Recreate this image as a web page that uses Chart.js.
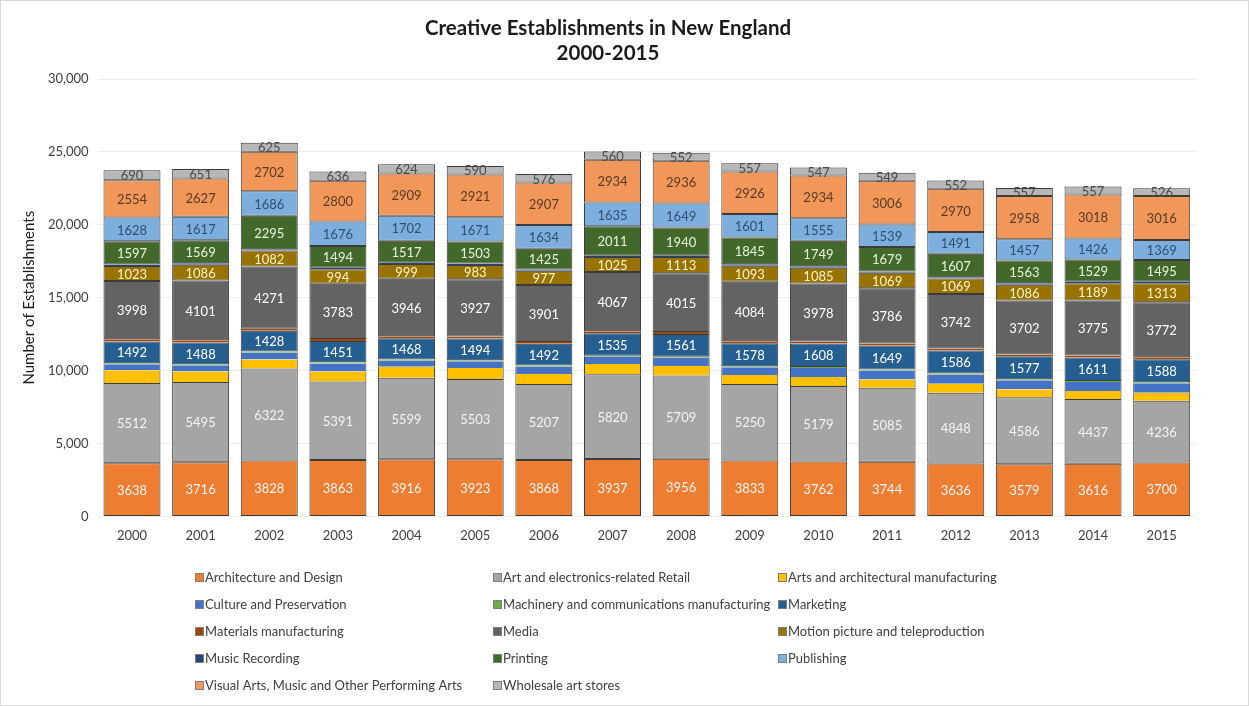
<!DOCTYPE html>
<html>
<head>
<meta charset="utf-8">
<script src="https://cdn.jsdelivr.net/npm/chart.js@4.4.1/dist/chart.umd.min.js"></script>
<style>
    body { margin: 0; background: #fff; }
    #wrap { width: 1249px; height: 706px; position: relative; }
</style>
</head>
<body>
<div id="wrap"><canvas id="metric-graph"></canvas></div>
<script>
// years on the x axis
const years = ["2000", "2001", "2002", "2003", "2004", "2005", "2006", "2007",
               "2008", "2009", "2010", "2011", "2012", "2013", "2014", "2015"];

// establishments per sector (bottom of stack first)
const architecture = [3638, 3716, 3828, 3863, 3916, 3923, 3868, 3937, 3956, 3833, 3762, 3744, 3636, 3579, 3616, 3700];
const retail       = [5512, 5495, 6322, 5391, 5599, 5503, 5207, 5820, 5709, 5250, 5179, 5085, 4848, 4586, 4437, 4236];
const artsMfg      = [870, 720, 620, 690, 750, 750, 690, 690, 650, 620, 620, 560, 620, 550, 550, 550];
const culture      = [410, 430, 450, 550, 410, 460, 500, 500, 570, 520, 620, 620, 620, 620, 620, 640];
const machinery    = [80, 80, 90, 80, 80, 70, 80, 80, 70, 80, 70, 70, 70, 70, 70, 70];
const marketing    = [1492, 1488, 1428, 1451, 1468, 1494, 1492, 1535, 1561, 1578, 1608, 1649, 1586, 1577, 1611, 1588];
const materials    = [150, 150, 140, 150, 140, 140, 130, 130, 140, 130, 130, 130, 130, 120, 130, 130];
const media        = [3998, 4101, 4271, 3783, 3946, 3927, 3901, 4067, 4015, 4084, 3978, 3786, 3742, 3702, 3775, 3772];
const motion       = [1023, 1086, 1082, 994, 999, 983, 977, 1025, 1113, 1093, 1085, 1069, 1069, 1086, 1189, 1313];
const music        = [100, 100, 90, 100, 90, 100, 90, 100, 90, 100, 100, 90, 90, 100, 100, 100];
const printing     = [1597, 1569, 2295, 1494, 1517, 1503, 1425, 2011, 1940, 1845, 1749, 1679, 1607, 1563, 1529, 1495];
const publishing   = [1628, 1617, 1686, 1676, 1702, 1671, 1634, 1635, 1649, 1601, 1555, 1539, 1491, 1457, 1426, 1369];
const visualArts   = [2554, 2627, 2702, 2800, 2909, 2921, 2907, 2934, 2936, 2926, 2934, 3006, 2970, 2958, 3018, 3016];
const wholesale    = [690, 651, 625, 636, 624, 590, 576, 560, 552, 557, 547, 549, 552, 557, 557, 526];

const yTicks = [0, 5000, 10000, 15000, 20000, 25000, 30000];

const FONT = "Lato";

function series(label, data, color, labelColor, thin) {
    return {
        label: label,
        data: data,
        backgroundColor: color,
        borderColor: "#3b3b3b",
        borderWidth: thin ? { top: 0, bottom: 0, left: 1, right: 1 } : 1,
        borderSkipped: false,
        labelColor: labelColor,
        barPercentage: 0.83,
        categoryPercentage: 1.0
    };
}

const datasets = [
    series("Architecture and Design", architecture, "#ED7D31", "#f4f4f4"),
    series("Art and electronics-related Retail", retail, "#A5A5A5", "#f4f4f4"),
    series("Arts and architectural manufacturing", artsMfg, "#FFC000", null, true),
    series("Culture and Preservation", culture, "#4472C4", null, true),
    series("Machinery and communications manufacturing", machinery, "#70AD47", null, true),
    series("Marketing", marketing, "#255E91", "#ffffff"),
    series("Materials manufacturing", materials, "#9E480E", null, true),
    series("Media", media, "#636363", "#ffffff"),
    series("Motion picture and teleproduction", motion, "#997300", "#fff2cc"),
    series("Music Recording", music, "#264478", null, true),
    series("Printing", printing, "#43682B", "#e8f5dc"),
    series("Publishing", publishing, "#7CAFDD", "#2f4f6f"),
    series("Visual Arts, Music and Other Performing Arts", visualArts, "#F1975A", "#5a3a22"),
    series("Wholesale art stores", wholesale, "#B7B7B7", "#4a4a4a")
];

// white background plus thin frame round the whole chart
const frame = {
    id: "frame",
    beforeDraw(chart) {
        let ctx = chart.ctx;
        ctx.save();
        ctx.fillStyle = "#ffffff";
        ctx.fillRect(0, 0, chart.width, chart.height);
        ctx.strokeStyle = "#d9d9d9";
        ctx.lineWidth = 1;
        ctx.strokeRect(0.5, 0.5, chart.width - 1, chart.height - 1);
        ctx.restore();
    }
};

// value labels in the middle of each segment
const segLabels = {
    id: "segLabels",
    afterDatasetsDraw(chart) {
        let ctx = chart.ctx;
        ctx.save();
        ctx.font = "13px " + FONT;
        ctx.textAlign = "center";
        ctx.textBaseline = "middle";
        chart.data.datasets.forEach((ds, i) => {
            if (!ds.labelColor) return;
            let meta = chart.getDatasetMeta(i);
            meta.data.forEach((bar, j) => {
                ctx.fillStyle = ds.labelColor;
                ctx.fillText(String(ds.data[j]), bar.x, (bar.y + bar.base) / 2 + 1);
            });
        });
        ctx.restore();
    }
};

// legend in three columns under the chart
const gridLegend = {
    id: "gridLegend",
    afterDraw(chart) {
        let ctx = chart.ctx;
        let colX = [195, 493, 778];
        let rowY = 578;
        let rowStep = 27;
        ctx.save();
        ctx.font = "13px " + FONT;
        ctx.textBaseline = "middle";
        ctx.textAlign = "left";
        chart.data.datasets.forEach((ds, i) => {
            let x = colX[i % 3];
            let y = rowY + Math.floor(i / 3) * rowStep;
            ctx.fillStyle = ds.backgroundColor;
            ctx.fillRect(x, y - 5, 9, 9);
            ctx.strokeStyle = "#7f7f7f";
            ctx.lineWidth = 1;
            ctx.strokeRect(x + 0.5, y - 4.5, 8, 8);
            ctx.fillStyle = "#404040";
            ctx.fillText(ds.label, x + 10, y);
        });
        ctx.restore();
    }
};

function buildAGraph() {
    let ctx = document.getElementById("metric-graph");
    new Chart(ctx, {
        type: "bar",
        data: {
            labels: years,
            datasets: datasets
        },
        options: {
            responsive: true,
            maintainAspectRatio: false,
            animation: false,
            layout: {
                padding: { top: 0, left: 20, right: 53, bottom: 158 }
            },
            plugins: {
                legend: { display: false },
                tooltip: { enabled: false },
                title: {
                    display: true,
                    text: ["Creative Establishments in New England", "2000-2015"],
                    color: "#1a1a1a",
                    font: { family: FONT, size: 20.5, weight: "bold", lineHeight: 1.22 },
                    padding: { top: 16, bottom: 13 }
                }
            },
            scales: {
                x: {
                    stacked: true,
                    grid: { display: false },
                    border: { display: false },
                    ticks: { color: "#404040", font: { family: FONT, size: 13 }, padding: 4 }
                },
                y: {
                    stacked: true,
                    min: 0,
                    max: 30000,
                    afterBuildTicks(axis) {
                        axis.ticks = yTicks.map(v => ({ value: v }));
                    },
                    grid: { color: "#eeeeee", drawTicks: false },
                    border: { display: false },
                    ticks: {
                        color: "#404040",
                        font: { family: FONT, size: 13 },
                        padding: 9,
                        callback: v => v.toLocaleString("en-US")
                    },
                    title: {
                        display: true,
                        text: "Number of Establishments",
                        color: "#1a1a1a",
                        font: { family: FONT, size: 15 },
                        padding: { top: 0, bottom: 1 }
                    }
                }
            }
        },
        plugins: [frame, segLabels, gridLegend]
    });
}

buildAGraph();
</script>
</body>
</html>
